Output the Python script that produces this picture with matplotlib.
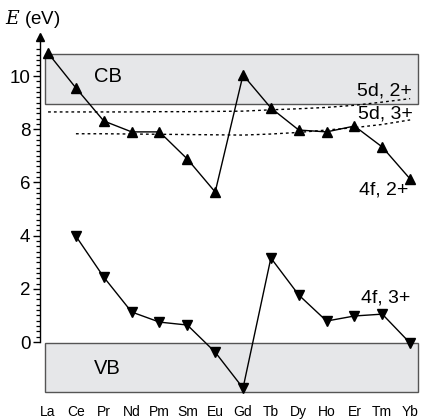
import numpy as np
import matplotlib
matplotlib.use("Agg")
import matplotlib.pyplot as plt
from matplotlib.patches import Rectangle

plt.rcParams['font.family'] = ['Liberation Sans', 'DejaVu Sans']
plt.rcParams['mathtext.fontset'] = 'dejavuserif'

elements = ["La", "Ce", "Pr", "Nd", "Pm", "Sm", "Eu", "Gd", "Tb", "Dy", "Ho", "Er", "Tm", "Yb"]

# 4f ground state energies (eV)
f2 = [10.86, 9.55, 8.31, 7.9, 7.9, 6.88, 5.64, 10.04, 8.8, 7.97, 7.9, 8.12, 7.33, 6.13]
f3 = [3.98, 2.44, 1.13, 0.75, 0.64, -0.38, -1.73, 3.16, 1.77, 0.79, 0.98, 1.05, -0.04]  # Ce..Yb

# lowest 5d levels
d2 = [8.65, 8.65, 8.65, 8.65, 8.66, 8.66, 8.67, 8.68, 8.73, 8.77, 8.82, 8.9, 9.02, 9.15]
d3 = [7.83, 7.83, 7.82, 7.81, 7.8, 7.79, 7.78, 7.82, 7.88, 7.97, 8.06, 8.18, 8.35]  # Ce..Yb

cb = (8.95, 10.83)
vb = (-1.88, -0.04)

W, H = 421, 420
fig = plt.figure(figsize=(W / 100, H / 100), dpi=100)
ax = fig.add_axes([40 / W, (H - 395) / H, 381 / W, 365 / H])

x = np.arange(len(elements))
ax.set_xlim(-0.29, 13.39)
ax.set_ylim(-1.99, 11.73)

# bands
for lo, hi in (cb, vb):
    ax.add_patch(Rectangle((-0.11, lo), 13.4, hi - lo, facecolor='#e6e7e9',
                           edgecolor='#555555', lw=1.0, zorder=1))

ax.plot(x, d2, color='k', lw=1.0, ls=(0, (2, 2.2)), zorder=2)
ax.plot(x[1:], d3, color='k', lw=1.0, ls=(0, (2, 2.2)), zorder=2)

ax.plot(x, f2, color='k', lw=1.0, marker='^', ms=7.5, zorder=3)
ax.plot(x[1:], f3, color='k', lw=1.0, marker='v', ms=7.5, zorder=3)

fs = 14
ax.text(2.15, 10.0, "CB", fontsize=14.5, ha='center', va='center')
ax.text(2.14, -1.0, "VB", fontsize=14.5, ha='center', va='center')
ax.text(13.07, 9.42, "5d, 2+", fontsize=fs, ha='right', va='center')
ax.text(13.1, 8.57, "5d, 3+", fontsize=fs, ha='right', va='center')
ax.text(12.93, 5.73, "4f, 2+", fontsize=fs, ha='right', va='center')
ax.text(13.0, 1.67, "4f, 3+", fontsize=fs, ha='right', va='center')

# axes styling
for s in ("top", "right", "bottom"):
    ax.spines[s].set_visible(False)
ax.spines['left'].set_bounds(0, 11.35)
ax.spines['left'].set_linewidth(1.0)
ax.plot(0, 11.48, marker='^', ms=6.3, color='k', transform=ax.get_yaxis_transform(),
        clip_on=False, zorder=5)

ax.set_yticks(np.arange(0, 11, 2))
ax.set_yticks(np.arange(0, 11.01, 0.2), minor=True)
ax.tick_params(axis='y', which='major', length=5, width=1, labelsize=13.5, pad=2)
ax.tick_params(axis='y', which='minor', length=3, width=0.9)

ax.set_xticks(x)
ax.set_xticklabels(elements)
ax.tick_params(axis='x', length=0, labelsize=10, pad=7)

fig.text(5 / W, 1 - 19 / H, r"$E$ (eV)", fontsize=13.5, ha='left', va='center')

fig.savefig("out.png", dpi=100)
